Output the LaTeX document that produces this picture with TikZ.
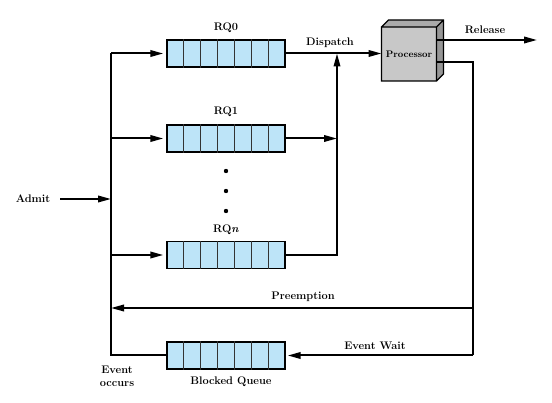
\documentclass[tikz,border=0pt]{standalone}
\usepackage{tikz}
\usetikzlibrary{shapes,arrows.meta,calc}

\definecolor{qblue}{HTML}{BDE4F8}
\definecolor{procfront}{HTML}{C8C8C8}
\definecolor{procside}{HTML}{969696}

\begin{document}
\begin{tikzpicture}[x=1pt,y=-1pt,
      every node/.style={font=\fontsize{11}{13}\selectfont\bfseries},
      queue/.style={draw,line width=1.4pt,fill=qblue,minimum width=118pt,minimum height=27pt,inner sep=0pt},
      flow/.style={line width=2pt,-{Triangle[length=13pt,width=6.5pt]}},
      wire/.style={line width=2pt}]
    \useasboundingbox (0,0) rectangle (552,403);
    \node[queue] (rq0) at (226,53.5) {};
    \node[queue] (rq1) at (226,138.5) {};
    \node[queue] (rqn) at (226,255) {};
    \node[queue] (bq) at (226,355.5) {};
    \foreach \q in {rq0,rq1,rqn,bq} {
      \foreach \i in {1,...,6} {
        \draw[gray!40!black,line width=1pt] ($(\q.north west)!\i/7!(\q.north east)$) -- ($(\q.south west)!\i/7!(\q.south east)$);
      }
    }
    \node (rq0lbl) at (226,28) {RQ0};
    \node (rq1lbl) at (226,112) {RQ1};
    \node (rqnlbl) at (226,230) {RQ\textit{n}};
    \fill (226,171) circle (2.2pt) (226,191) circle (2.2pt) (226,211) circle (2.2pt);
    \fill[procfront] (381.5,27) rectangle (436.5,81);
    \fill[procside] (436.5,27) -- (443.5,20) -- (443.5,74) -- (436.5,81) -- cycle;
    \fill[procside!80!white] (381.5,27) -- (388.5,20) -- (443.5,20) -- (436.5,27) -- cycle;
    \draw[line width=1.2pt] (381.5,27) rectangle (436.5,81)
      (381.5,27) -- (388.5,20) -- (443.5,20) -- (443.5,74) -- (436.5,81)
      (436.5,27) -- (443.5,20);
    \node[font=\fontsize{9.5}{11}\selectfont\bfseries] (proc) at (409,54) {Processor};
    \coordinate (procin) at (381.5,53.5);
    \coordinate (procrel) at (436.5,40);
    \coordinate (procout) at (436.5,62);
    \coordinate (relend) at (537,40);
    \coordinate (bustop) at (111,53.5);
    \coordinate (busrq1) at (111,138.5);
    \coordinate (busrqn) at (111,255);
    \coordinate (busadmit) at (111,199);
    \coordinate (busbot) at (111,355.5);
    \coordinate (buspre) at (111,308);
    \coordinate (joinrq1) at (337,138.5);
    \coordinate (joinrqn) at (337,255);
    \coordinate (joindisp) at (337,53.5);
    \coordinate (backtop) at (473,62);
    \coordinate (backpre) at (473,308);
    \coordinate (backbot) at (473,355.5);
    \coordinate (admitstart) at (60,199);
    \draw[flow] (rq0.east) -- (procin);
    \draw[flow] (rq1.east) -- (joinrq1);
    \draw[flow] (rqn.east) -- (joinrqn) -- (joindisp);
    \draw[flow] (procrel) -- (relend);
    \draw[wire] (procout) -- (backtop) -- (backbot);
    \draw[flow] (backbot) -- ([xshift=2pt]bq.east);
    \draw[flow] (backpre) -- (buspre);
    \draw[wire] (bq.west) -- (busbot) -- (bustop);
    \draw[flow,shorten >=3pt] (bustop) -- (rq0.west);
    \draw[flow,shorten >=3pt] (busrq1) -- (rq1.west);
    \draw[flow,shorten >=3pt] (busrqn) -- (rqn.west);
    \draw[flow] (admitstart) -- (busadmit);
    \node (admit) at (33,199) {Admit};
    \node (dispatch) at (330,43) {Dispatch};
    \node (release) at (485,30) {Release};
    \node (preempt) at (303,297) {Preemption};
    \node (evwait) at (375,346) {Event Wait};
    \node[align=center] (evocc) at (117,376) {Event\\occurs};
    \node (bqlbl) at (231,382) {Blocked Queue};
  \end{tikzpicture}
\end{document}
